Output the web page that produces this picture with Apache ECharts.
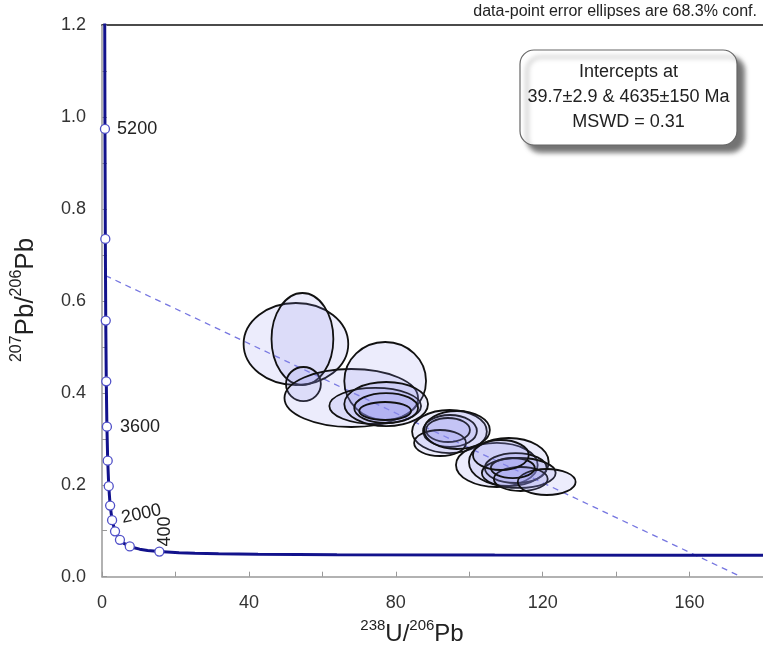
<!DOCTYPE html>
<html><head><meta charset="utf-8">
<script src="https://cdn.jsdelivr.net/npm/echarts@6/dist/echarts.min.js"></script>
<style>html,body{margin:0;padding:0;background:#fff}#c{width:763px;height:650px}</style>
</head><body><div id="c"></div>
<script>
// Concordia curve, x = 238U/206Pb, y = 207Pb/206Pb
const concordiaX = [0.742, 0.806, 0.9045, 1.0217, 1.1631, 1.3369, 1.5557, 1.8383, 2.2169, 2.749, 3.550, 4.888, 5.960, 7.568, 8.718, 10.252, 12.399, 15.62, 20.99, 25.29, 31.74, 42.48, 63.97, 106.94, 160.66, 180];
const concordiaY = [1.207, 0.974, 0.7347, 0.5572, 0.4250, 0.3264, 0.2524, 0.1968, 0.1548, 0.1230, 0.0987, 0.0801, 0.0725, 0.0658, 0.0628, 0.0599, 0.0572, 0.0547, 0.0523, 0.0512, 0.0501, 0.0490, 0.0480, 0.0472, 0.0468, 0.0467];
// Age markers on the concordia
const markerAges = [5200, 4800, 4400, 4000, 3600, 3200, 2800, 2400, 2000, 1600, 1200, 800, 400];
const markerX = [0.806, 0.9045, 1.0217, 1.1631, 1.3369, 1.5557, 1.8383, 2.2169, 2.749, 3.550, 4.888, 7.568, 15.62];
const markerY = [0.974, 0.7347, 0.5572, 0.4250, 0.3264, 0.2524, 0.1968, 0.1548, 0.1230, 0.0987, 0.0801, 0.0658, 0.0547];
const labeledAges = [5200, 3600, 2000, 400];
// Discordia (regression) line
const discordiaX = [0.95, 174];
const discordiaY = [0.655, 0];
// Error ellipses: centre and half-axes
const ellX  = [52.81, 54.58, 54.85, 67.88, 77.11, 74.40, 77.38, 77.38, 77.11, 94.62, 94.76, 94.22, 92.05, 96.66, 107.52, 110.78, 112.68, 113.49, 114.04, 121.10, 111.87, 108.61];
const ellY  = [0.5061, 0.5170, 0.4191, 0.3887, 0.4257, 0.3713, 0.3756, 0.3669, 0.3604, 0.3158, 0.3169, 0.3191, 0.2908, 0.3191, 0.2430, 0.2495, 0.2364, 0.2256, 0.2125, 0.2060, 0.2364, 0.2647];
const ellSX = [14.25, 8.42, 4.75, 18.19, 11.13, 12.49, 11.40, 8.69, 7.06, 10.18, 7.33, 5.97, 7.06, 8.96, 11.13, 10.86, 8.42, 10.05, 7.33, 7.87, 5.97, 7.60];
const ellSY = [0.0892, 0.1001, 0.0370, 0.0631, 0.0848, 0.0392, 0.0479, 0.0326, 0.0196, 0.0468, 0.0348, 0.0261, 0.0283, 0.0413, 0.0479, 0.0522, 0.0326, 0.0326, 0.0261, 0.0283, 0.0218, 0.0326];
// Axis ticks
const xTickValues = [0, 40, 80, 120, 160];
const yTickValues = [0, 0.2, 0.4, 0.6, 0.8, 1.0, 1.2];
const yTickLabels = ['0.0', '0.2', '0.4', '0.6', '0.8', '1.0', '1.2'];
// Texts
const noteText = 'data-point error ellipses are 68.3% conf.';
const boxLines = ['Intercepts at', '39.7\u00b12.9 & 4635\u00b1150 Ma', 'MSWD = 0.31'];

const FONT = '"Liberation Sans", Arial, sans-serif';
const chart = echarts.init(document.getElementById('c'), null, {renderer: 'canvas'});

const curveData = concordiaX.map((x, i) => [x, concordiaY[i]]);
const labelStyles = {
  5200: {position: 'right', distance: 7},
  3600: {position: 'right', distance: 8},
  2000: {position: 'right', distance: 5, rotate: 12, offset: [0, -2]},
  400: {position: [11, 0], rotate: 90, align: 'left', verticalAlign: 'middle'}
};
const markerData = markerX.map((x, i) => {
  const age = markerAges[i];
  const item = {value: [x, markerY[i]], name: String(age)};
  if (labeledAges.includes(age)) {
    item.label = Object.assign({show: true, formatter: String(age), fontSize: 18, color: '#222', fontFamily: FONT}, labelStyles[age]);
  }
  return item;
});
const ellData = ellX.map((x, i) => [x, ellY[i], ellSX[i], ellSY[i]]);

chart.setOption({
  animation: false,
  backgroundColor: '#fff',
  grid: {left: 102, top: 25, right: -2, bottom: 73.3, containLabel: false},
  xAxis: [{
    type: 'value', min: 0, max: 180, interval: 40,
    axisLine: {show: true, onZero: false, lineStyle: {color: '#999', width: 1.5}},
    axisTick: {show: true, inside: true, length: 5, lineStyle: {color: '#999'}},
    minorTick: {show: true, splitNumber: 2, length: 5, lineStyle: {color: '#999'}},
    splitLine: {show: false},
    axisLabel: {fontSize: 18, color: '#333', fontFamily: FONT, margin: 17, showMaxLabel: false,
      formatter: v => xTickValues.includes(v) ? String(v) : ''}
  }, {
    type: 'value', min: 0, max: 180, position: 'top',
    axisLine: {show: true, onZero: false, lineStyle: {color: '#111', width: 1.5}},
    axisTick: {show: false}, axisLabel: {show: false}, splitLine: {show: false}
  }],
  yAxis: {
    type: 'value', min: 0, max: 1.2, interval: 0.2,
    axisLine: {show: true, onZero: false, lineStyle: {color: '#999', width: 1.5}},
    axisTick: {show: true, inside: true, length: 5, lineStyle: {color: '#999'}},
    minorTick: {show: true, splitNumber: 2, length: 5, lineStyle: {color: '#999'}},
    splitLine: {show: false},
    axisLabel: {fontSize: 18, color: '#333', fontFamily: FONT, margin: 16,
      formatter: v => { const k = yTickValues.findIndex(t => Math.abs(t - v) < 1e-9); return k >= 0 ? yTickLabels[k] : ''; }}
  },
  series: [
    {
      type: 'line', name: 'discordia', xAxisIndex: 0,
      data: discordiaX.map((x, i) => [x, discordiaY[i]]),
      showSymbol: false, z: 2,
      lineStyle: {color: '#7676e0', width: 1.3, type: [6, 5]}
    },
    {
      type: 'custom', name: 'ellipses', xAxisIndex: 0, z: 3,
      data: ellData,
      encode: {x: 0, y: 1},
      renderItem: (params, api) => {
        const c = api.coord([api.value(0), api.value(1)]);
        const s = api.size([api.value(2), api.value(3)]);
        return {
          type: 'ellipse',
          shape: {cx: c[0], cy: c[1], rx: s[0], ry: s[1]},
          style: {fill: 'rgba(140,140,240,0.17)', stroke: '#111', lineWidth: 1.8}
        };
      }
    },
    {
      type: 'line', name: 'concordia', xAxisIndex: 0,
      data: curveData, showSymbol: false, smooth: false, clip: true, z: 4,
      lineStyle: {color: '#12128c', width: 3}
    },
    {
      type: 'scatter', name: 'ages', xAxisIndex: 0, z: 5,
      data: markerData, symbol: 'circle', symbolSize: 9,
      itemStyle: {color: '#fff', borderColor: '#5050c8', borderWidth: 1.3, opacity: 1},
      label: {show: false}
    }
  ],
  graphic: [
    {
      type: 'text', x: 757, y: 12,
      style: {text: noteText, fontSize: 16, fontFamily: FONT, fill: '#222', align: 'right', verticalAlign: 'middle'}
    },
    {
      type: 'group', x: 520, y: 50,
      children: [
        {type: 'rect', shape: {x: 0, y: 0, width: 217, height: 95, r: 14},
          style: {fill: '#fff', stroke: '#666', lineWidth: 1.2, shadowColor: 'rgba(0,0,0,0.55)', shadowBlur: 5, shadowOffsetX: 7, shadowOffsetY: 7}},
        {type: 'text', x: 108.5, y: 22, style: {text: boxLines[0], fontSize: 18, fontFamily: FONT, fill: '#222', align: 'center', verticalAlign: 'middle'}},
        {type: 'text', x: 108.5, y: 47, style: {text: boxLines[1], fontSize: 18, fontFamily: FONT, fill: '#222', align: 'center', verticalAlign: 'middle'}},
        {type: 'text', x: 108.5, y: 72, style: {text: boxLines[2], fontSize: 18, fontFamily: FONT, fill: '#222', align: 'center', verticalAlign: 'middle'}}
      ]
    },
    {
      type: 'text', x: 412, y: 632,
      style: {
        text: '{s|238}{n|U/}{s|206}{n|Pb}', align: 'center', verticalAlign: 'middle', fill: '#222',
        rich: {
          n: {fontSize: 24, fontFamily: FONT, fill: '#222', lineHeight: 28, verticalAlign: 'bottom'},
          s: {fontSize: 15, fontFamily: FONT, fill: '#222', lineHeight: 28, verticalAlign: 'top', padding: [0, 0, 10, 0]}
        }
      }
    },
    {
      type: 'text', x: 24, y: 300, rotation: Math.PI / 2,
      style: {
        text: '{s|207}{n|Pb/}{s|206}{n|Pb}', align: 'center', verticalAlign: 'middle', fill: '#222',
        rich: {
          n: {fontSize: 26, fontFamily: FONT, fill: '#222', lineHeight: 30, verticalAlign: 'bottom'},
          s: {fontSize: 16, fontFamily: FONT, fill: '#222', lineHeight: 30, verticalAlign: 'top', padding: [0, 0, 11, 0]}
        }
      }
    }
  ]
});
</script>
</body></html>
